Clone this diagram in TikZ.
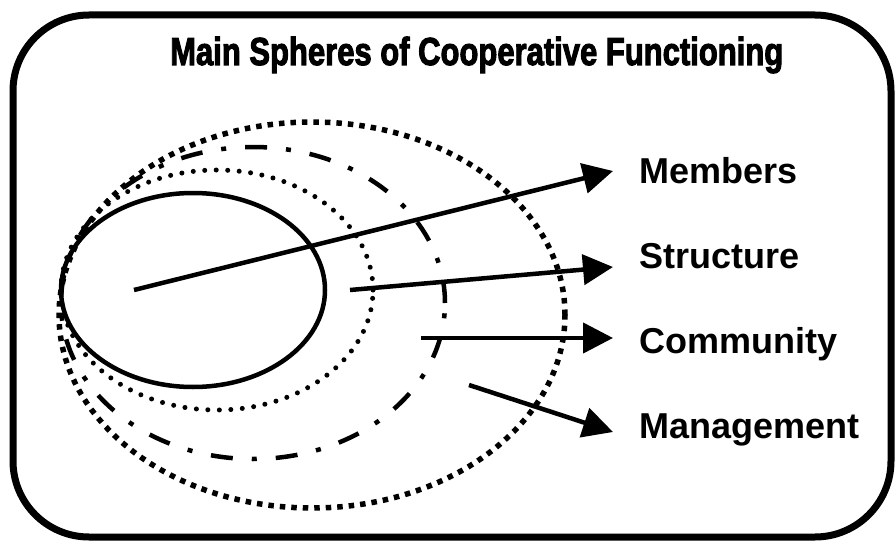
\documentclass[tikz,border=0pt]{standalone}
\usepackage{fontspec}
\usepackage{graphicx}
\setmainfont{Liberation Sans}
\newfontfamily\titlefont{Liberation Sans Bold}[FakeBold=3]
\usetikzlibrary{arrows.meta}
\begin{document}
\begin{tikzpicture}[x=1pt,y=-1pt,
  frame/.style={line width=7pt},
  solidring/.style={line width=4.5pt},
  dotring/.style={line width=5pt,line cap=round,dash pattern=on 0pt off 11.5pt},
  dashdotring/.style={line width=4.5pt,dash pattern=on 22pt off 19pt on 5pt off 19pt},
  squarering/.style={line width=5.5pt,dash pattern=on 5.5pt off 6pt},
  pointer/.style={line width=4.5pt,-{Triangle[length=30pt,width=30pt]}},
  label/.style={anchor=base west,inner sep=0pt,font=\bfseries\fontsize{36pt}{40pt}\selectfont}]
\useasboundingbox (0,0) rectangle (895,543);
\draw[frame,rounded corners=76pt] (13,15) rectangle (891,537);
\node[anchor=base west,inner sep=0pt] (title) at (170,65)
  {\resizebox{613pt}{\height}{\titlefont\fontsize{39pt}{42pt}\selectfont Main Spheres of Cooperative Functioning}};
% spheres
\draw[squarering] (312,315) ellipse [x radius=253pt, y radius=193pt];
\draw[dashdotring] (253,303) ellipse [x radius=192pt, y radius=156pt];
\draw[dotring] (217,290) ellipse [x radius=156pt, y radius=120pt];
\draw[solidring] (193,290) ellipse [x radius=132pt, y radius=97pt];
% labels
\node[label] (members) at (639,183) {Members};
\node[label] (structure) at (639,268) {Structure};
\node[label] (community) at (639,353) {Community};
\node[label] (management) at (639,438) {Management};
% arrow ends
\coordinate (ms) at (134,290);
\coordinate (mt) at (613,171);
\coordinate (ss) at (350,290);
\coordinate (st) at (613,267);
\coordinate (cs) at (421,338);
\coordinate (ct) at (613,338);
\coordinate (gs) at (469,385);
\coordinate (gt) at (613,432);
\draw[pointer] (ms) -- (mt);
\draw[pointer] (ss) -- (st);
\draw[pointer] (cs) -- (ct);
\draw[pointer] (gs) -- (gt);
\end{tikzpicture}
\end{document}
